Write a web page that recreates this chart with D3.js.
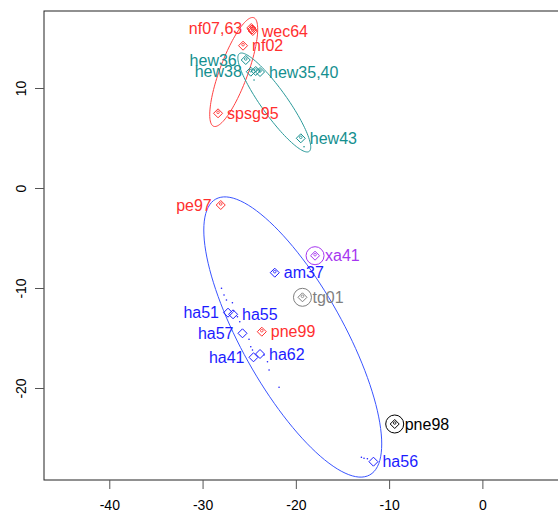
<!DOCTYPE html>
<html>
<head>
<meta charset="utf-8">
<script src="https://cdn.jsdelivr.net/npm/d3@7"></script>
<style>
  body { margin: 0; background: #fff; }
  svg { font-family: "Liberation Sans", Arial, Helvetica, sans-serif; }
</style>
</head>
<body>
<div class="plot"></div>
<script>
// samples (score 1 / score 2)
const ids = ["nf07", "nf63", "wec64", "nf02", "spsg95", "pe97", "pne99",
  "hew36", "hew38", "hew35", "hew40", "hew43",
  "am37", "ha51", "ha55", "ha57", "ha41", "ha62", "ha56",
  "xa41", "tg01", "pne98"];
const xVals = [-24.78, -24.70, -24.62, -25.66, -28.34, -28.05, -23.65,
  -25.37, -24.83, -24.30, -23.84, -19.47,
  -22.26, -27.27, -26.73, -25.72, -24.54, -23.84, -11.68,
  -17.94, -19.29, -9.40];
const yVals = [16.0, 15.85, 15.7, 14.23, 7.47, -1.7, -14.37,
  12.8, 11.63, 11.7, 11.6, 4.97,
  -8.47, -12.47, -12.63, -14.53, -16.93, -16.6, -27.37,
  -6.77, -10.93, -23.6];
const groups = ["red", "red", "red", "red", "red", "red", "red",
  "teal", "teal", "teal", "teal", "teal",
  "blue", "blue", "blue", "blue", "blue", "blue", "blue",
  "purple", "gray", "black"];
const labels = ["nf07,63", "", "wec64", "nf02", "spsg95", "pe97", "pne99",
  "hew36", "hew38", "", "hew35,40", "hew43",
  "am37", "ha51", "ha55", "ha57", "ha41", "ha62", "ha56",
  "xa41", "tg01", "pne98"];
const circled = ["xa41", "tg01", "pne98"];

// small unlabelled points
const dotX = [-27.97, -27.70, -27.44, -26.80, -26.66, -26.26, -26.01, -25.02, -24.83,
  -24.65, -23.41, -23.04, -22.87, -21.80, -12.97, -12.69, -12.33];
const dotY = [-10.03, -10.70, -11.2, -11.47, -12.3, -12.87, -13.37, -15.13, -15.87,
  -16.2, -16.7, -17.37, -18.2, -19.93, -26.93, -27.03, -27.07];
const dotTealX = [-19.12, -24.48];
const dotTealY = [4.13, 10.8];

// ellipses: centre, major half-axis vector, minor half-axis vector (data units)
const ellRed = { cx: -26.66, cy: 11.6, ux: 2.15, uy: 5.43, vx: 1.41, vy: -0.49 };
const ellTeal = { cx: -22.31, cy: 8.55, ux: 3.74, uy: -4.89, vx: -1.13, vy: -0.76 };
const ellBlue = { cx: -20.33, cy: -14.9, ux: 8.26, uy: -13.79, vx: -4.77, vy: -2.49 };

const xTicks = [-40, -30, -20, -10, 0];
const yTicks = [-20, -10, 0, 10];

const colors = {
  red: "#ff2f2f", teal: "#148f8f", blue: "#1c1cff",
  purple: "#a636f0", gray: "#7f7f7f", black: "#000000"
};
const leftLabels = ["nf07", "pe97", "hew36", "hew38", "ha51", "ha57", "ha41"];

let width = 558;
let height = 514;

const svg = d3.select('.plot').append('svg')
  .attr('width', width)
  .attr('height', height);

const x = d3.scaleLinear().domain([-47, 9.5]).range([44, 571]);
const y = d3.scaleLinear().domain([-29.2, 17.7]).range([480, 11]);

// box
svg.append('rect')
  .attr('x', x.range()[0]).attr('y', y.range()[1])
  .attr('width', x.range()[1] - x.range()[0])
  .attr('height', y.range()[0] - y.range()[1])
  .attr('fill', 'none')
  .attr('stroke', '#222');

// axes
const xAxis = svg.append('g')
  .attr('transform', `translate(0,${y.range()[0]})`)
  .call(d3.axisBottom(x).tickValues(xTicks).tickSize(9).tickPadding(11).tickFormat(d => String(d)));
const yAxis = svg.append('g')
  .attr('transform', `translate(${x.range()[0]},0)`)
  .call(d3.axisLeft(y).tickValues(yTicks).tickSize(9).tickFormat(d => String(d)));

[xAxis, yAxis].forEach(a => {
  a.select('.domain').remove();
  a.selectAll('line').attr('stroke', '#555');
  a.selectAll('text').attr('font-size', 14).attr('fill', '#000')
    .attr('font-family', '"Liberation Sans", Arial, sans-serif');
});
yAxis.selectAll('text')
  .attr('transform', 'rotate(-90)')
  .attr('x', 0).attr('dy', 0)
  .attr('y', -18)
  .attr('text-anchor', 'middle');

// ellipses
const line = d3.line().x(d => x(d[0])).y(d => y(d[1]));
const ellPts = e => d3.range(0, 361, 3).map(deg => {
  const t = deg * Math.PI / 180;
  return [e.cx + e.ux * Math.cos(t) + e.vx * Math.sin(t),
          e.cy + e.uy * Math.cos(t) + e.vy * Math.sin(t)];
});
[[ellRed, '#ff4040'], [ellTeal, '#2a9a9a'], [ellBlue, '#3a55ff']].forEach(([e, c]) => {
  svg.append('path')
    .attr('d', line(ellPts(e)))
    .attr('fill', 'none')
    .attr('stroke', c)
    .attr('stroke-width', 1);
});

// small dots
svg.selectAll('.dot')
  .data(d3.zip(dotX, dotY))
  .enter().append('circle')
  .attr('cx', d => x(d[0])).attr('cy', d => y(d[1]))
  .attr('r', 0.8).attr('fill', colors.blue);
svg.selectAll('.dotT')
  .data(d3.zip(dotTealX, dotTealY))
  .enter().append('circle')
  .attr('cx', d => x(d[0])).attr('cy', d => y(d[1]))
  .attr('r', 0.8).attr('fill', colors.teal);

const pts = ids.map((id, i) => ({
  id, x: xVals[i], y: yVals[i], g: groups[i], label: labels[i]
}));

const graph = svg.append('g');
const s = 4.5;
graph.selectAll('.pt')
  .data(pts)
  .enter().append('path')
  .attr('class', 'pt')
  .attr('d', d => {
    const px = x(d.x), py = y(d.y);
    return `M${px},${py - s}L${px + s},${py}L${px},${py + s}L${px - s},${py}Z`;
  })
  .attr('fill', 'none')
  .attr('stroke', d => colors[d.g])
  .attr('stroke-width', 1);

// inner marks
graph.selectAll('.inner')
  .data(pts.filter(d => d.g !== 'blue' || d.id === 'am37'))
  .enter().append('circle')
  .attr('cx', d => x(d.x)).attr('cy', d => y(d.y) - 1)
  .attr('r', 1.3)
  .attr('fill', 'none')
  .attr('stroke', d => colors[d.g])
  .attr('stroke-width', 0.8);

graph.selectAll('.ring')
  .data(pts.filter(d => circled.includes(d.id)))
  .enter().append('circle')
  .attr('cx', d => x(d.x)).attr('cy', d => y(d.y))
  .attr('r', 9)
  .attr('fill', 'none')
  .attr('stroke', d => colors[d.g])
  .attr('stroke-width', 1);

graph.selectAll('.lab')
  .data(pts.filter(d => d.label))
  .enter().append('text')
  .attr('x', d => {
    const off = circled.includes(d.id) ? 10 : 9;
    return leftLabels.includes(d.id) ? x(d.x) - off : x(d.x) + off;
  })
  .attr('y', d => y(d.y))
  .attr('dy', '0.36em')
  .attr('text-anchor', d => leftLabels.includes(d.id) ? 'end' : 'start')
  .attr('font-size', 16)
  .attr('fill', d => colors[d.g])
  .text(d => d.label);
</script>
</body>
</html>
